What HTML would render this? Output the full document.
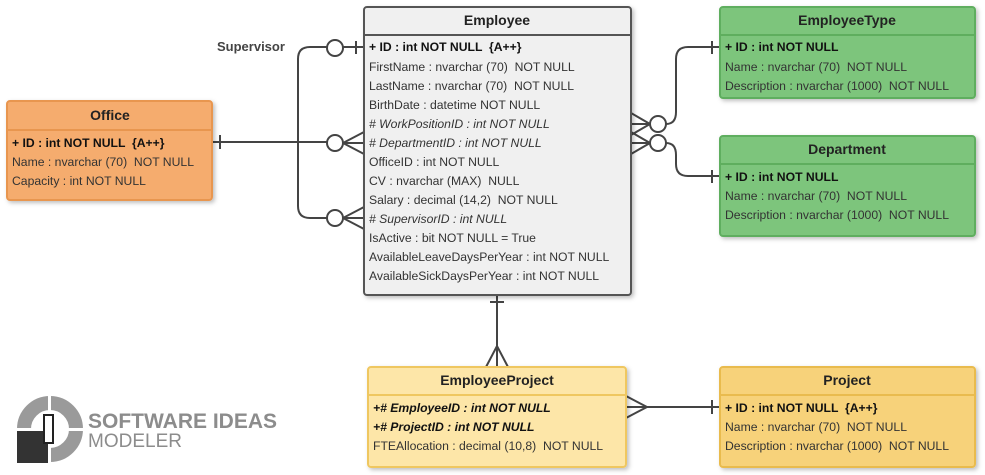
<!DOCTYPE html>
<html><head><meta charset="utf-8"><style>
body{margin:0;width:985px;height:475px;background:#fff;overflow:hidden}
svg{display:block}
text{font-family:"Liberation Sans","DejaVu Sans",sans-serif;font-size:12.2px;fill:#333;white-space:pre}
.h{font-weight:bold;font-size:14px;text-anchor:middle;fill:#222}
.b{font-weight:bold;fill:#111}
.i{font-style:italic}
.ln{stroke:#444;stroke-width:2;fill:none}
.c{stroke:#444;stroke-width:2;fill:#fff}
</style></head><body>
<svg width="985" height="475" viewBox="0 0 985 475">
<defs><filter id="s" x="-5%" y="-5%" width="115%" height="115%"><feDropShadow dx="2" dy="2" stdDeviation="2" flood-opacity="0.25"/></filter></defs>

<path class="ln" d="M364 47 H343 M327 47 H310 Q298 47 298 59 V206 Q298 218 310 218 H327"/>
<path class="ln" d="M356 41 V54"/>
<circle class="c" cx="335" cy="48" r="8"/>
<path class="ln" d="M343 218 L364 207 M343 218 H364 M343 218 L364 229"/>
<circle class="c" cx="335" cy="218" r="8"/>
<path class="ln" d="M212 142 H327 M220 135 V149 M343 143 L364 132 M343 143 H364 M343 143 L364 154"/>
<circle class="c" cx="335" cy="143" r="8"/>
<path class="ln" d="M631 113 L650 124 L631 135 M631 124 H650 M631 132 L650 143 L631 154 M631 143 H650"/>
<path class="ln" d="M666 124 Q676 124 676 112 V59 Q676 47 688 47 H720 M712 41 V54"/>
<path class="ln" d="M666 143 Q676 143 676 155 V164 Q676 176 688 176 H720 M712 170 V183"/>
<circle class="c" cx="658" cy="124" r="8"/>
<circle class="c" cx="658" cy="143" r="8"/>
<path class="ln" d="M497 295 V367 M490 302 H504 M486 367 L497 346 L508 367 M497 346 V367"/>
<path class="ln" d="M626 407 H720 M712 400 V414 M626 396 L647 407 L626 418"/>

<g filter="url(#s)"><rect x="364" y="7" width="267" height="288" rx="3" fill="#f0f0f0" stroke="#555" stroke-width="2"/></g>
<line x1="364" y1="35" x2="631" y2="35" stroke="#555" stroke-width="2"/>
<text class="h" x="497" y="25">Employee</text>
<text x="369" y="51" class="b">+ ID : int NOT NULL  {A++}</text>
<text x="369" y="71">FirstName : nvarchar (70)  NOT NULL</text>
<text x="369" y="90">LastName : nvarchar (70)  NOT NULL</text>
<text x="369" y="109">BirthDate : datetime NOT NULL</text>
<text x="369" y="128" class="i"># WorkPositionID : int NOT NULL</text>
<text x="369" y="147" class="i"># DepartmentID : int NOT NULL</text>
<text x="369" y="166">OfficeID : int NOT NULL</text>
<text x="369" y="185">CV : nvarchar (MAX)  NULL</text>
<text x="369" y="204">Salary : decimal (14,2)  NOT NULL</text>
<text x="369" y="223" class="i"># SupervisorID : int NULL</text>
<text x="369" y="242">IsActive : bit NOT NULL = True</text>
<text x="369" y="261">AvailableLeaveDaysPerYear : int NOT NULL</text>
<text x="369" y="280">AvailableSickDaysPerYear : int NOT NULL</text>
<text x="217" y="51" style="font-weight:bold;font-size:13px;fill:#444">Supervisor</text>

<g filter="url(#s)"><rect x="7" y="101" width="205" height="99" rx="3" fill="#f5ac6e" stroke="#e8964f" stroke-width="2"/></g>
<line x1="7" y1="130" x2="212" y2="130" stroke="#e8964f" stroke-width="2"/>
<text class="h" x="110" y="120">Office</text>
<text x="12" y="147" class="b">+ ID : int NOT NULL  {A++}</text>
<text x="12" y="166">Name : nvarchar (70)  NOT NULL</text>
<text x="12" y="185">Capacity : int NOT NULL</text>

<g filter="url(#s)"><rect x="720" y="7" width="255" height="91" rx="3" fill="#7dc57c" stroke="#5fae5e" stroke-width="2"/></g>
<line x1="720" y1="35" x2="975" y2="35" stroke="#5fae5e" stroke-width="2"/>
<text class="h" x="847" y="25">EmployeeType</text>
<text x="725" y="51" class="b">+ ID : int NOT NULL</text>
<text x="725" y="71">Name : nvarchar (70)  NOT NULL</text>
<text x="725" y="90">Description : nvarchar (1000)  NOT NULL</text>

<g filter="url(#s)"><rect x="720" y="136" width="255" height="100" rx="3" fill="#7dc57c" stroke="#5fae5e" stroke-width="2"/></g>
<line x1="720" y1="164" x2="975" y2="164" stroke="#5fae5e" stroke-width="2"/>
<text class="h" x="847" y="154">Department</text>
<text x="725" y="181" class="b">+ ID : int NOT NULL</text>
<text x="725" y="200">Name : nvarchar (70)  NOT NULL</text>
<text x="725" y="219">Description : nvarchar (1000)  NOT NULL</text>

<g filter="url(#s)"><rect x="368" y="367" width="258" height="100" rx="3" fill="#fde6a8" stroke="#efc760" stroke-width="2"/></g>
<line x1="368" y1="395" x2="626" y2="395" stroke="#efc760" stroke-width="2"/>
<text class="h" x="497" y="385">EmployeeProject</text>
<text x="373" y="412" class="b i">+# EmployeeID : int NOT NULL</text>
<text x="373" y="431" class="b i">+# ProjectID : int NOT NULL</text>
<text x="373" y="450">FTEAllocation : decimal (10,8)  NOT NULL</text>

<g filter="url(#s)"><rect x="720" y="367" width="255" height="100" rx="3" fill="#f7d27a" stroke="#e9bb4e" stroke-width="2"/></g>
<line x1="720" y1="395" x2="975" y2="395" stroke="#e9bb4e" stroke-width="2"/>
<text class="h" x="847" y="385">Project</text>
<text x="725" y="412" class="b">+ ID : int NOT NULL  {A++}</text>
<text x="725" y="431">Name : nvarchar (70)  NOT NULL</text>
<text x="725" y="450">Description : nvarchar (1000)  NOT NULL</text>

<circle cx="50" cy="429" r="26" fill="none" stroke="#9a9a9a" stroke-width="14"/>
<rect x="17" y="430" width="31" height="33" fill="#333"/>
<rect x="48" y="396" width="3" height="67" fill="#fff"/>
<rect x="17" y="428" width="66" height="3" fill="#fff"/>
<rect x="44" y="415" width="9" height="28" fill="#fff" stroke="#222" stroke-width="2"/>
<text x="88" y="428" style="font-weight:bold;font-size:21px;fill:#8c8c8c">SOFTWARE IDEAS</text>
<text x="88" y="447" style="font-size:19px;fill:#8c8c8c">MODELER</text>
</svg>
</body></html>
